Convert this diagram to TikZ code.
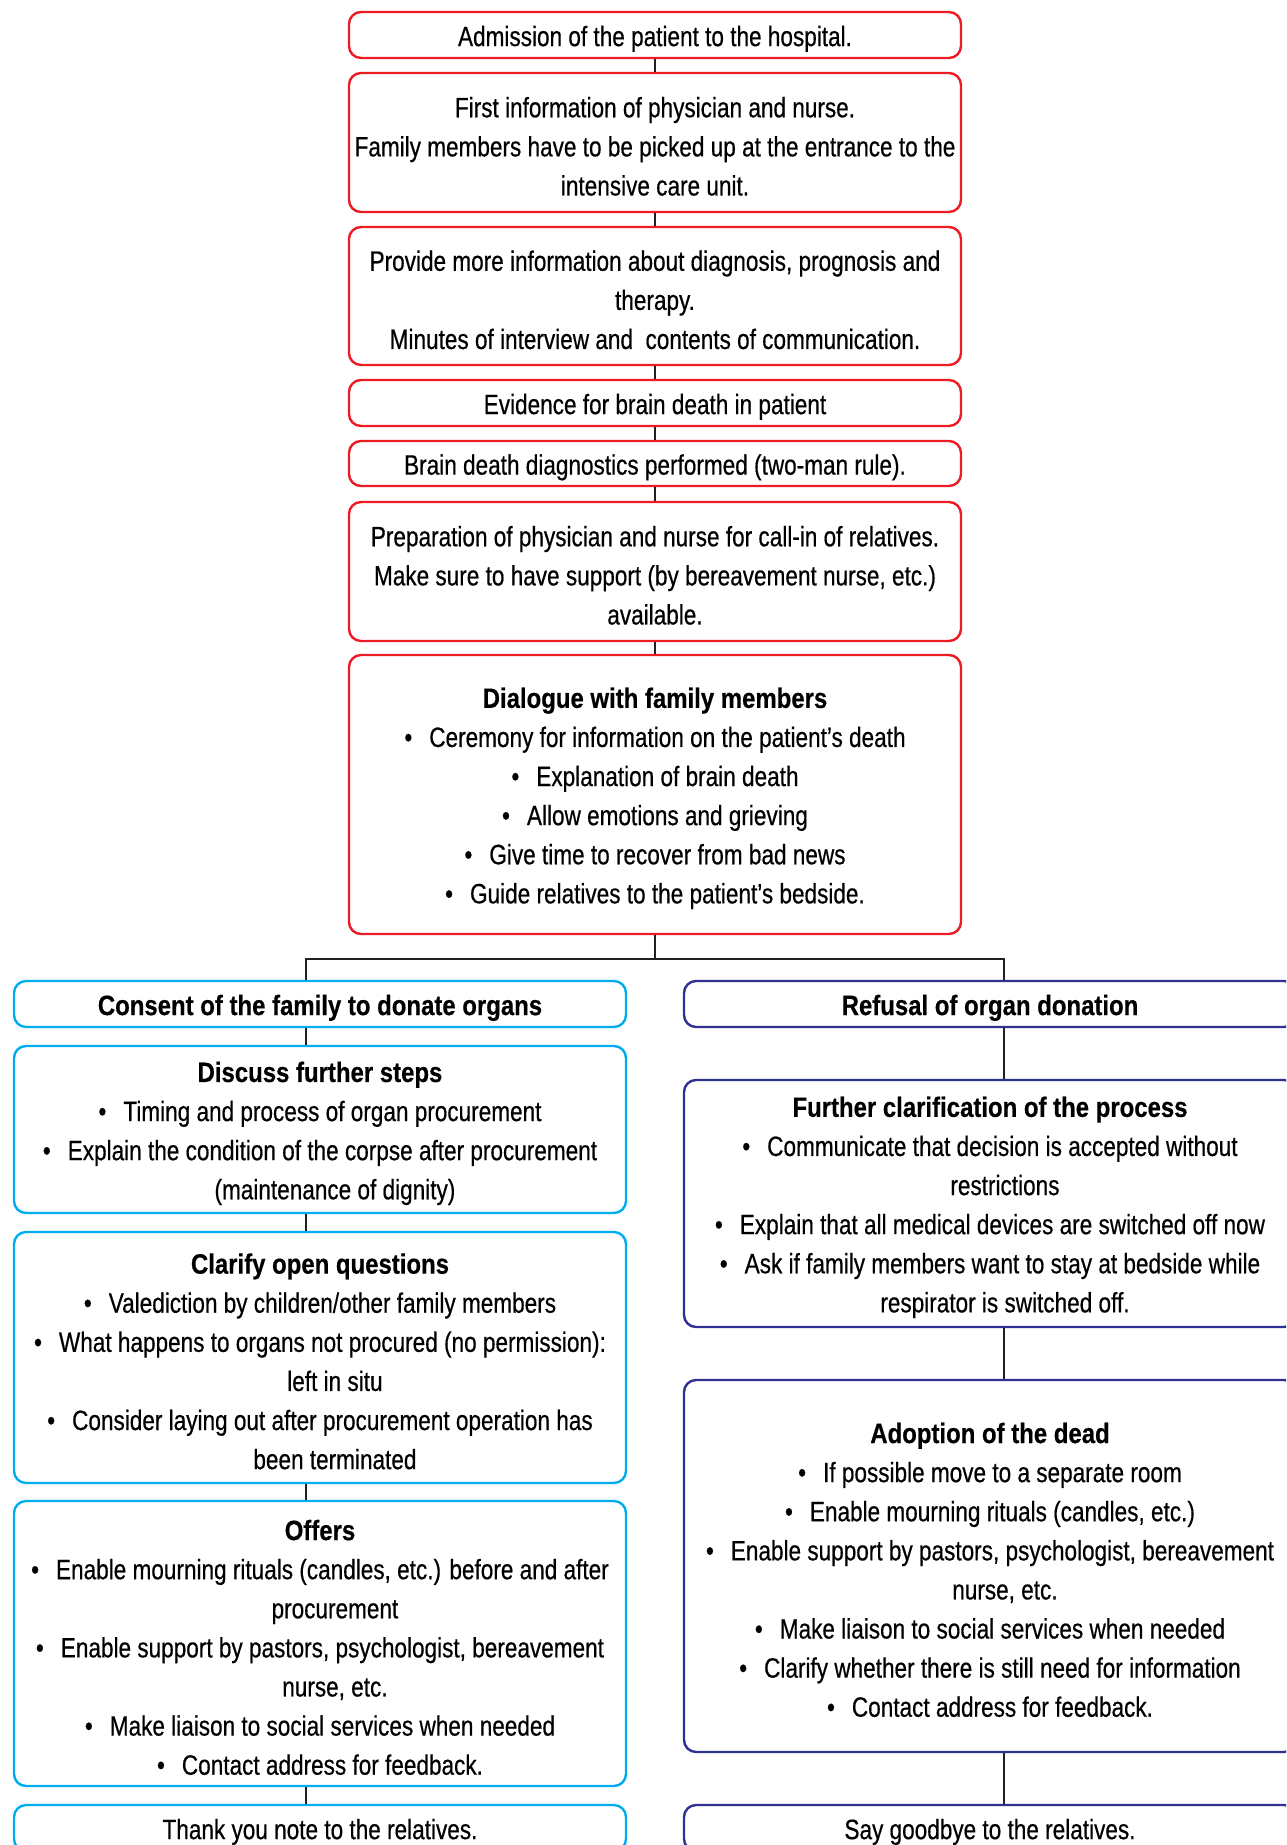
\documentclass[tikz,border=0pt]{standalone}
\usepackage{fontspec}
\setmainfont[FakeStretch=0.806, FakeBold=0.5, BoldFeatures={FakeStretch=0.855}]{Liberation Sans}
\definecolor{boxred}{HTML}{ED1C24}
\definecolor{boxcyan}{HTML}{00AEEF}
\definecolor{boxnavy}{HTML}{2E3192}
\definecolor{linegray}{HTML}{231F20}
% bullet item, its continuation line, and a strut for the first line
\newcommand\bul{\textbullet\hspace{17pt}}
\newcommand\cnt{\hphantom{\textbullet\hspace{17pt}}\hspace{5pt}}
\newcommand\sv{\rule{0pt}{28pt}}
\begin{document}
\begin{tikzpicture}[x=1pt,y=-1pt,
  box/.style={draw, rounded corners=12pt, line width=2.4pt, minimum width=612pt,
    inner sep=0pt, align=center, text=black,
    font=\fontsize{28}{39.1}\selectfont},
  redbox/.style={box, draw=boxred},
  cyanbox/.style={box, draw=boxcyan},
  navybox/.style={box, draw=boxnavy},
  conn/.style={draw=linegray, line width=2pt}]
\useasboundingbox (0,0) rectangle (1286,1845);
\clip (0,0) rectangle (1286,1845);

% common trunk
\node[redbox, minimum height=46pt] (b1) at (655,35) {\sv Admission of the patient to the hospital.};
\node[redbox, minimum height=139pt] (b2) at (655,142.5) {\sv First information of physician and nurse.\\
  Family members have to be picked up at the entrance to the\\ intensive care unit.};
\node[redbox, minimum height=138pt] (b3) at (655,296) {\sv Provide more information about diagnosis, prognosis and\\
  therapy.\\ Minutes of interview and\ \ contents of communication.};
\node[redbox, minimum height=46pt] (b4) at (655,403) {\sv Evidence for brain death in patient};
\node[redbox, minimum height=45pt] (b5) at (655,463.5) {\sv Brain death diagnostics performed (two-man rule).};
\node[redbox, minimum height=139pt] (b6) at (655,571.5) {\sv Preparation of physician and nurse for call-in of relatives.\\
  Make sure to have support (by bereavement nurse, etc.)\\ available.};
\node[redbox, minimum height=279pt] (b7) at (655,794.5) {\sv\textbf{Dialogue with family members}\\
  \bul Ceremony for information on the patient’s death\\
  \bul Explanation of brain death\\
  \bul Allow emotions and grieving\\
  \bul Give time to recover from bad news\\
  \bul Guide relatives to the patient’s bedside.};

% consent branch
\node[cyanbox, minimum height=46pt] (l1) at (320,1004) {\sv\textbf{Consent of the family to donate organs}};
\node[cyanbox, minimum height=167pt] (l2) at (320,1129.5) {\sv\textbf{Discuss further steps}\\
  \bul Timing and process of organ procurement\\
  \bul Explain the condition of the corpse after procurement\\
  \cnt(maintenance of dignity)};
\node[cyanbox, minimum height=251pt] (l3) at (320,1357.5) {\sv\textbf{Clarify open questions}\\
  \bul Valediction by children/other family members\\
  \bul What happens to organs not procured (no permission):\\
  \cnt left in situ\\
  \bul Consider laying out after procurement operation has\\
  \cnt been terminated};
\node[cyanbox, minimum height=285pt] (l4) at (320,1643.5) {\sv\textbf{Offers}\\
  \bul Enable mourning rituals (candles, etc.) before and after\\
  \cnt procurement\\
  \bul Enable support by pastors, psychologist, bereavement\\
  \cnt nurse, etc.\\
  \bul Make liaison to social services when needed\\
  \bul Contact address for feedback.};
\node[cyanbox, minimum height=46pt] (l5) at (320,1828) {\sv Thank you note to the relatives.};

% refusal branch
\node[navybox, minimum height=46pt] (r1) at (990,1004) {\sv\textbf{Refusal of organ donation}};
\node[navybox, minimum height=247pt] (r2) at (990,1203.5) {\sv\textbf{Further clarification of the process}\\
  \bul Communicate that decision is accepted without\\
  \cnt restrictions\\
  \bul Explain that all medical devices are switched off now\\
  \bul Ask if family members want to stay at bedside while\\
  \cnt respirator is switched off.};
\node[navybox, minimum height=372pt] (r3) at (990,1566) {\sv\textbf{Adoption of the dead}\\
  \bul If possible move to a separate room\\
  \bul Enable mourning rituals (candles, etc.)\\
  \bul Enable support by pastors, psychologist, bereavement\\
  \cnt nurse, etc.\\
  \bul Make liaison to social services when needed\\
  \bul Clarify whether there is still need for information\\
  \bul Contact address for feedback.};
\node[navybox, minimum height=46pt] (r4) at (990,1828) {\sv Say goodbye to the relatives.};

% connectors
\coordinate (lx) at (306,0);
\coordinate (rx) at (1004,0);
\coordinate (split) at (655,959);
\draw[conn] (b1.south) -- (b2.north);
\draw[conn] (b2.south) -- (b3.north);
\draw[conn] (b3.south) -- (b4.north);
\draw[conn] (b4.south) -- (b5.north);
\draw[conn] (b5.south) -- (b6.north);
\draw[conn] (b6.south) -- (b7.north);
\draw[conn] (b7.south) -- (split);
\draw[conn] (l1.north -| lx) |- (split) -| (r1.north -| rx);
\draw[conn] (l1.south -| lx) -- (l2.north -| lx);
\draw[conn] (l2.south -| lx) -- (l3.north -| lx);
\draw[conn] (l3.south -| lx) -- (l4.north -| lx);
\draw[conn] (l4.south -| lx) -- (l5.north -| lx);
\draw[conn] (r1.south -| rx) -- (r2.north -| rx);
\draw[conn] (r2.south -| rx) -- (r3.north -| rx);
\draw[conn] (r3.south -| rx) -- (r4.north -| rx);
\end{tikzpicture}
\end{document}
